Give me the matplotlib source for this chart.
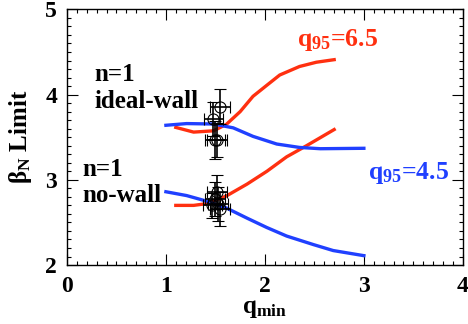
import matplotlib
matplotlib.use("Agg")
import matplotlib.pyplot as plt
from matplotlib.ticker import MultipleLocator

plt.rcParams['font.family'] = ['Liberation Serif', 'DejaVu Serif']
plt.rcParams['font.weight'] = 'bold'
plt.rcParams['mathtext.fontset'] = 'custom'
plt.rcParams['mathtext.rm'] = 'Liberation Serif:bold'
plt.rcParams['mathtext.it'] = 'Liberation Serif:bold'
plt.rcParams['mathtext.bf'] = 'Liberation Serif:bold'

# q95 = 6.5 (red), ideal-wall
red_wall_x = [1.10, 1.28, 1.48, 1.61, 1.75, 1.88, 2.02, 2.15, 2.35, 2.52, 2.70]
red_wall_y = [3.615, 3.56, 3.575, 3.65, 3.80, 3.98, 4.11, 4.23, 4.33, 4.38, 4.41]
# q95 = 6.5 (red), no-wall
red_nowall_x = [1.10, 1.28, 1.41, 1.61, 1.82, 2.02, 2.22, 2.42, 2.70]
red_nowall_y = [2.70, 2.70, 2.72, 2.81, 2.95, 3.10, 3.27, 3.40, 3.59]
# q95 = 4.5 (blue), ideal-wall
blue_wall_x = [1.00, 1.21, 1.48, 1.68, 1.88, 2.12, 2.35, 2.56, 3.00]
blue_wall_y = [3.64, 3.66, 3.655, 3.61, 3.51, 3.42, 3.38, 3.365, 3.37]
# q95 = 4.5 (blue), no-wall
blue_nowall_x = [1.00, 1.21, 1.41, 1.61, 1.82, 2.02, 2.22, 2.49, 2.69, 3.00]
blue_nowall_y = [2.86, 2.815, 2.75, 2.67, 2.55, 2.44, 2.34, 2.24, 2.17, 2.11]

# experimental points
pts_x = [1.55, 1.48, 1.50, 1.52, 1.52, 1.50, 1.53, 1.47, 1.55]
pts_y = [3.86, 3.71, 3.47, 3.47, 2.86, 2.78, 2.72, 2.70, 2.66]
pts_xerr = [0.10, 0.10, 0.10, 0.10, 0.10, 0.10, 0.10, 0.10, 0.10]
pts_yerr = [0.20, 0.20, 0.22, 0.20, 0.20, 0.20, 0.20, 0.15, 0.20]

red = '#ff3010'
blue = '#2040ff'

fig = plt.figure(figsize=(4.68, 3.24), dpi=100)
ax = fig.add_axes([0.143, 0.182, 0.846, 0.789])

lw = 2.4
ax.plot(red_wall_x, red_wall_y, color=red, lw=lw)
ax.plot(red_nowall_x, red_nowall_y, color=red, lw=lw)
ax.plot(blue_wall_x, blue_wall_y, color=blue, lw=lw)
ax.plot(blue_nowall_x, blue_nowall_y, color=blue, lw=lw)

ax.errorbar(pts_x, pts_y, xerr=pts_xerr, yerr=pts_yerr, fmt='o', mfc='none',
            mec='black', ms=8, mew=0.8, ecolor='black', elinewidth=1.2,
            capsize=4, capthick=1.2)

ax.set_xlim(0, 4)
ax.set_ylim(2, 5)
ax.xaxis.set_major_locator(MultipleLocator(1))
ax.yaxis.set_major_locator(MultipleLocator(1))
ax.xaxis.set_minor_locator(MultipleLocator(0.1))
ax.yaxis.set_minor_locator(MultipleLocator(0.1))
ax.tick_params(which='both', direction='in', top=True, right=True, width=0.8)
ax.tick_params(which='major', length=8, labelsize=17)
ax.tick_params(axis='x', which='major', pad=8)
ax.tick_params(axis='y', which='major', pad=7)
ax.tick_params(which='minor', length=3)
for s in ax.spines.values():
    s.set_linewidth(1.0)
for lab in ax.get_xticklabels() + ax.get_yticklabels():
    lab.set_fontweight('bold')

ax.set_xlabel(r'q$_{\rm min}$', fontsize=18, fontweight='bold', labelpad=0)
ax.set_ylabel(r'β$_{\rm N}$ Limit', fontsize=18, fontweight='bold', labelpad=8)

ax.text(0.28, 4.08, 'n=1\nideal-wall', fontsize=18, fontweight='bold',
        va='center', ha='left', linespacing=1.2)
ax.text(0.16, 2.97, 'n=1\nno-wall', fontsize=18, fontweight='bold',
        va='center', ha='left', linespacing=1.2)
ax.text(2.32, 4.64, r'q$_{\rm 95}$=6.5', fontsize=18.5, fontweight='bold',
        color=red, ha='left', va='center')
ax.text(3.04, 3.08, r'q$_{\rm 95}$=4.5', fontsize=18.5, fontweight='bold',
        color=blue, ha='left', va='center')

fig.savefig('out.png', dpi=100)
